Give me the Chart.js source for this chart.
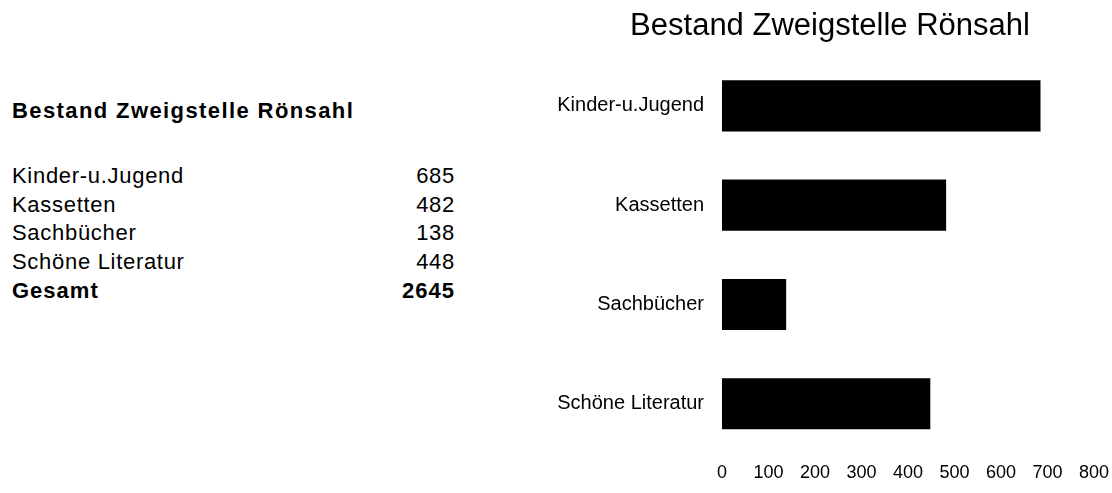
<!DOCTYPE html>
<html>
<head>
<meta charset="utf-8">
<title>Bestand Zweigstelle Rönsahl</title>
<script src="https://cdn.jsdelivr.net/npm/chart.js@4"></script>
<style>
    html, body { margin: 0; padding: 0; background: #fff; }
    body { width: 1112px; height: 493px; position: relative; overflow: hidden;
           font-family: 'Liberation Sans', Arial, sans-serif; color: #000; }
    #tableBox { position: absolute; left: 12px; top: 97px; width: 443px; }
    .row { display: flex; justify-content: space-between; font-size: 22px;
           line-height: 28.7px; height: 28.7px; letter-spacing: 0.7px; }
    .head { font-weight: bold; letter-spacing: 1.4px; margin-bottom: 36.4px; }
    .bold { font-weight: bold; letter-spacing: 1px; }
    #chartBox { position: absolute; left: 530px; top: 0; width: 588px; height: 493px; }
</style>
</head>
<body>
<div id="tableBox"></div>
<div id="chartBox"><canvas id="bestandChart"></canvas></div>
<script>
// Daten
const title = "Bestand Zweigstelle Rönsahl";
const categories = ["Kinder-u.Jugend", "Kassetten", "Sachbücher", "Schöne Literatur"];
const bestand = [685, 482, 138, 448];
const gesamt = 2645; // so in der Vorlage
const xMin = 0, xMax = 800, xStep = 100;

// Tabelle links
function buildTable() {
    let box = document.getElementById("tableBox");
    let html = `<div class="row head"><span>${title}</span></div>`;
    for (let i = 0; i < categories.length; i++) {
        html += `<div class="row"><span>${categories[i]}</span><span>${bestand[i]}</span></div>`;
    }
    html += `<div class="row bold"><span>Gesamt</span><span>${gesamt}</span></div>`;
    box.innerHTML = html;
}
buildTable();

// Balkendiagramm rechts
const font = "'Liberation Sans', Arial, sans-serif";
var ctx = document.getElementById('bestandChart').getContext('2d');
var bestandChart = new Chart(ctx, {
    type: 'bar',
    data: {
        labels: categories,
        datasets: [{
            data: bestand,
            backgroundColor: '#000',
            borderWidth: 0,
            categoryPercentage: 1,
            barPercentage: 0.515
        }]
    },
    options: {
        indexAxis: 'y',
        responsive: true,
        maintainAspectRatio: false,
        animation: false,
        layout: { padding: { left: 12, right: 0, top: 0, bottom: 0 } },
        plugins: {
            legend: { display: false },
            tooltip: { enabled: false },
            title: {
                display: true,
                text: title,
                color: '#000',
                font: { family: font, size: 31, weight: 'normal' },
                padding: { top: 8, bottom: 11 }
            }
        },
        scales: {
            x: {
                min: xMin,
                max: xMax,
                grid: { display: false, drawTicks: false },
                border: { display: false },
                ticks: {
                    stepSize: xStep,
                    padding: 9,
                    color: '#000',
                    maxRotation: 0,
                    font: { family: font, size: 18 }
                }
            },
            y: {
                grid: { display: false, drawTicks: false },
                border: { display: false },
                ticks: {
                    padding: 18,
                    color: '#000',
                    font: { family: font, size: 20 }
                },
                afterFit: function(scale) { scale.width = 180; }
            }
        }
    }
});
</script>
</body>
</html>
